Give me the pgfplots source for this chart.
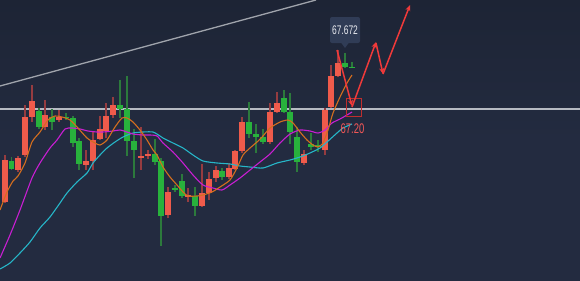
\documentclass[border=0pt]{standalone}
\usepackage{fontspec}
\setmainfont{Liberation Sans}
\usepackage{pgfplots}
\usepackage{pgfplotstable}
\pgfplotsset{compat=1.18}
\usetikzlibrary{arrows.meta}

\definecolor{bgtop}{RGB}{29,36,53}
\definecolor{bgbot}{RGB}{35,43,64}
\definecolor{upred}{RGB}{239,91,75}
\definecolor{dngreen}{RGB}{40,178,60}
\definecolor{redwick}{RGB}{150,60,64}
\definecolor{greenwick}{RGB}{44,122,60}
\definecolor{maor}{RGB}{212,110,30}
\definecolor{mamg}{RGB}{200,30,210}
\definecolor{macy}{RGB}{38,182,200}
\definecolor{trendgray}{RGB}{160,164,172}
\definecolor{levelgray}{RGB}{182,186,194}
\definecolor{arrowred}{RGB}{240,58,58}
\definecolor{tipbg}{RGB}{48,60,86}

% candles: x, body top, body bottom, high, low (screen units, 0 = top)
\pgfplotstableread{
x top bot hi lo
5 160 202 155 203
18 158 170 156 172
25 117 155 105 157
32 101 117 85 122
45 115 127 100 130
59 117 120 110 122
86 161 165 150 170
93 140 161 132 170
100 129 139 116 140
106 116 131 103 138
113 105 115 97 118
141 156 158 127 170
148 154 156 150 159
168 192 215 187 218
188 195 197 188 202
202 193 206 164 207
209 179 193 172 200
216 170 178 166 182
229 168 177 163 179
235 151 169 150 170
242 122 151 117 153
270 112 142 103 144
277 103 112 92 113
304 154 163 150 165
325 110 150 108 155
331 76 107 65 108
338 63 76 50 77
}\redc

\pgfplotstableread{
x top bot hi lo
11.5 161 169 157 170
39 111 127 108 129
52 117 122 109 130
66 116.5 118 113 120
73 118 143 116 147
79 141 164 138 170
120 105 109 80 118
127 109 141 76 156
134 141 150 129 178
155 154 162 139 165
161 161 216 158 246
175 188 189.5 185 192
182 181 196 174 198
195 196 206 187 216
222 171 177 168 180
249 122 134 102 138
256 134 136.5 124 153
263 137 142 129 144
284 98 112 90 113
290 112 132 93 144
297 137 162 127 172
311 144 147 133 150
318 145 146.5 140 152
345 63 67 53 68
352 66.5 68 62 68
}\greenc

\begin{document}
\begin{tikzpicture}
\begin{axis}[
  width=580bp, height=280bp, scale only axis,
  xmin=0, xmax=580, ymin=0, ymax=280, y dir=reverse,
  axis line style={draw=none}, ticks=none,
  axis background/.style={top color=bgtop, bottom color=bgbot, middle color=bgbot, shading angle=0},
  clip=true,
]
% trend line and level
\addplot[trendgray, line width=1.3bp] coordinates {(0,86) (316,0)};
\addplot[levelgray, line width=1.2bp] coordinates {(0,109) (580,109)};

% wicks
\addplot[draw=none, mark=none, error bars/.cd, y dir=both, y explicit, error mark=none,
  error bar style={draw=redwick, line width=1.2bp}]
  table[x=x, y expr={(\thisrow{hi}+\thisrow{lo})/2}, y error expr={(\thisrow{lo}-\thisrow{hi})/2}] {\redc};
\addplot[draw=none, mark=none, error bars/.cd, y dir=both, y explicit, error mark=none,
  error bar style={draw=greenwick, line width=1.2bp}]
  table[x=x, y expr={(\thisrow{hi}+\thisrow{lo})/2}, y error expr={(\thisrow{lo}-\thisrow{hi})/2}] {\greenc};
% bodies
\addplot[draw=none, mark=none, error bars/.cd, y dir=both, y explicit, error mark=none,
  error bar style={draw=upred, line width=5.6bp}]
  table[x=x, y expr={(\thisrow{top}+\thisrow{bot})/2}, y error expr={(\thisrow{bot}-\thisrow{top})/2}] {\redc};
\addplot[draw=none, mark=none, error bars/.cd, y dir=both, y explicit, error mark=none,
  error bar style={draw=dngreen, line width=5.6bp}]
  table[x=x, y expr={(\thisrow{top}+\thisrow{bot})/2}, y error expr={(\thisrow{bot}-\thisrow{top})/2}] {\greenc};

% moving averages
\addplot[macy, line width=1.1bp, smooth, tension=0.4] coordinates {
(0,269)(10,263)(20,253)(30,242)(40,228)(50,217)(60,203)(67,193)(77,182)(87,173)(93,163)(100,155)(107,148)(115,142)(123,137)(133,133)(143,132)(153,132)(160,136)(163,138)(173,143)(183,148)(193,155)(203,161)(217,163)(230,164)(240,166)(250,167)(263,168)(277,163)(290,160)(300,157)(310,153)(320,148)(327,142)(337,133)(343,128)(352,124)};
\addplot[mamg, line width=1.1bp, smooth, tension=0.4] coordinates {
(0,258)(10,235)(20,210)(32,178)(40,163)(50,148)(57,140)(65,129)(72,128)(80,129)(88,131)(97,132)(103,132)(113,131)(120,130)(127,132)(133,134)(143,135)(150,135)(157,136)(163,143)(173,152)(183,163)(193,175)(203,185)(213,188)(222,190)(230,185)(240,178)(250,170)(260,162)(270,154)(280,143)(290,134)(300,130)(310,131)(318,133)(325,130)(332,123)(340,119)(347,115)(352,112)};
\addplot[maor, line width=1.1bp, smooth, tension=0.4] coordinates {
(0,210)(7,192)(13,181)(18,176)(25,163)(32,142)(40,132)(48,120)(55,116)(62,117)(70,120)(78,128)(87,138)(95,143)(100,145)(107,140)(115,127)(122,118)(127,118)(133,122)(140,130)(147,140)(153,150)(157,155)(163,167)(170,177)(177,185)(183,192)(188,196)(197,196)(203,195)(212,192)(220,187)(230,180)(237,168)(243,155)(250,148)(257,142)(263,136)(270,128)(280,122)(288,120)(293,123)(300,132)(307,140)(313,145)(318,147)(323,143)(328,130)(333,113)(340,97)(347,83)(352,75)};

% annotation box and price
\draw[arrowred!80!black, line width=0.9bp] (axis cs:346,98) rectangle (axis cs:361,116);
\node[text=arrowred!85!white, font=\fontsize{14}{15}\selectfont, inner sep=0pt] at (axis cs:352.5,129) {\scalebox{0.68}[1]{67.20}};

% projected path arrows
\addplot[arrowred, line width=1.5bp, -{Stealth[length=6bp,width=5bp]}] coordinates {(337,50) (352,106)};
\addplot[arrowred, line width=1.5bp, -{Stealth[length=6bp,width=5bp]}] coordinates {(352,107) (376,42)};
\addplot[arrowred, line width=1.5bp, -{Stealth[length=6bp,width=5bp]}] coordinates {(376,43) (383,74)};
\addplot[arrowred, line width=1.5bp, -{Stealth[length=6bp,width=5bp]}] coordinates {(383,74) (410,5)};

% price tooltip
\fill[tipbg, rounded corners=2bp] (axis cs:330,17) rectangle (axis cs:360,43);
\fill[tipbg] (axis cs:341,42.5) -- (axis cs:349,42.5) -- (axis cs:345,48) -- cycle;
\node[text={rgb,255:red,232;green,234;blue,240}, font=\fontsize{12.5}{13}\selectfont, inner sep=0pt] at (axis cs:345,30) {\scalebox{0.68}[1]{67.672}};
\end{axis}
\end{tikzpicture}
\end{document}
